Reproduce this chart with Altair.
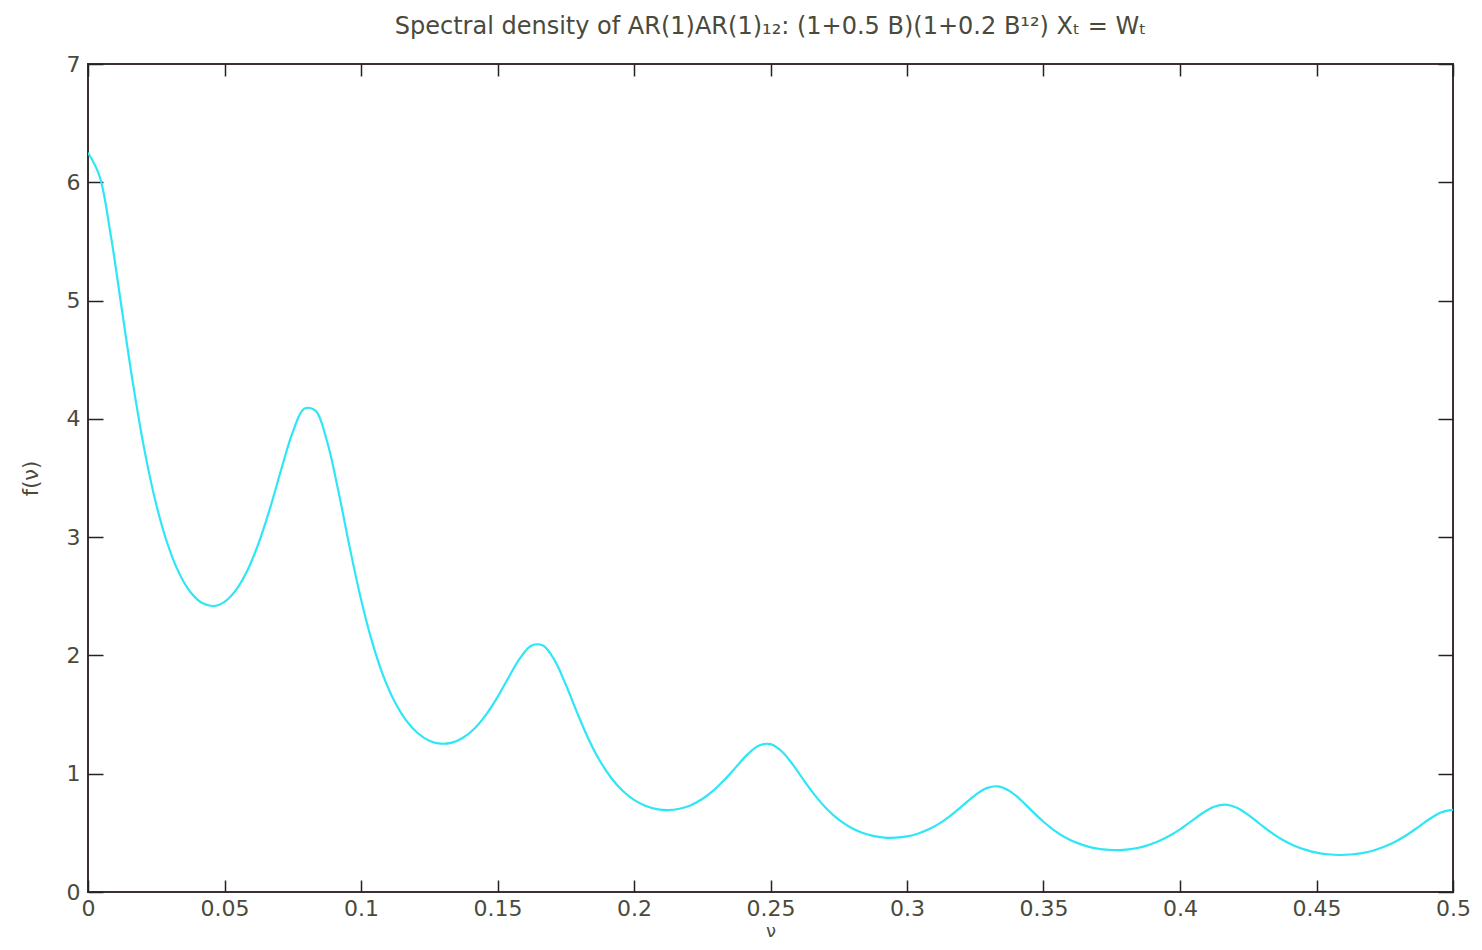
import altair as alt
import pandas as pd

# frequency grid (nu) read along the x axis
nu = [0, 0.00417, 0.00833, 0.0125, 0.01667, 0.02083, 0.025, 0.02917, 0.03333, 0.0375,
      0.04167, 0.04583, 0.05, 0.05417, 0.05833, 0.0625, 0.06667, 0.07083, 0.075, 0.07917,
      0.08333, 0.0875, 0.09167, 0.09583, 0.1, 0.10417, 0.10833, 0.1125, 0.11667, 0.12083,
      0.125, 0.12917, 0.13333, 0.1375, 0.14167, 0.14583, 0.15, 0.15417, 0.15833, 0.1625,
      0.16667, 0.17083, 0.175, 0.17917, 0.18333, 0.1875, 0.19167, 0.19583, 0.2, 0.20417,
      0.20833, 0.2125, 0.21667, 0.22083, 0.225, 0.22917, 0.23333, 0.2375, 0.24167, 0.24583,
      0.25, 0.25417, 0.25833, 0.2625, 0.26667, 0.27083, 0.275, 0.27917, 0.28333, 0.2875,
      0.29167, 0.29583, 0.3, 0.30417, 0.30833, 0.3125, 0.31667, 0.32083, 0.325, 0.32917,
      0.33333, 0.3375, 0.34167, 0.34583, 0.35, 0.35417, 0.35833, 0.3625, 0.36667, 0.37083,
      0.375, 0.37917, 0.38333, 0.3875, 0.39167, 0.39583, 0.4, 0.40417, 0.40833, 0.4125,
      0.41667, 0.42083, 0.425, 0.42917, 0.43333, 0.4375, 0.44167, 0.44583, 0.45, 0.45417,
      0.45833, 0.4625, 0.46667, 0.47083, 0.475, 0.47917, 0.48333, 0.4875, 0.49167, 0.49583,
      0.5]

# spectral density values f(nu)
f_nu = [6.250, 6.056, 5.553, 4.909, 4.271, 3.719, 3.276, 2.940, 2.698, 2.536,
        2.445, 2.418, 2.453, 2.552, 2.716, 2.949, 3.243, 3.576, 3.888, 4.085,
        4.069, 3.815, 3.394, 2.917, 2.475, 2.106, 1.817, 1.602, 1.447, 1.342,
        1.279, 1.254, 1.263, 1.306, 1.385, 1.500, 1.648, 1.818, 1.979, 2.084,
        2.083, 1.962, 1.754, 1.516, 1.294, 1.109, 0.964, 0.856, 0.779, 0.729,
        0.701, 0.693, 0.704, 0.734, 0.786, 0.859, 0.953, 1.060, 1.166, 1.239,
        1.250, 1.188, 1.072, 0.935, 0.806, 0.697, 0.611, 0.548, 0.503, 0.475,
        0.460, 0.459, 0.470, 0.495, 0.534, 0.589, 0.659, 0.739, 0.819, 0.878,
        0.893, 0.855, 0.778, 0.684, 0.594, 0.517, 0.457, 0.413, 0.382, 0.363,
        0.355, 0.356, 0.368, 0.390, 0.424, 0.471, 0.530, 0.599, 0.668, 0.721,
        0.738, 0.712, 0.652, 0.577, 0.504, 0.442, 0.394, 0.358, 0.333, 0.319,
        0.313, 0.317, 0.329, 0.351, 0.384, 0.429, 0.486, 0.553, 0.621, 0.674,
        0.694]

x_ticks = [0, 0.05, 0.1, 0.15, 0.2, 0.25, 0.3, 0.35, 0.4, 0.45, 0.5]
y_ticks = [0, 1, 2, 3, 4, 5, 6, 7]

title_text = "Spectral density of AR(1)AR(1)\u2081\u2082: (1+0.5 B)(1+0.2 B\u00b9\u00b2) X\u209c = W\u209c"

df = pd.DataFrame({"nu": nu, "f": f_nu})

TEXT = "#4a4a3c"
FONT = "DejaVu Sans"
TICK = "#222222"

x_scale = alt.Scale(domain=[0, 0.5], nice=False, zero=False)
y_scale = alt.Scale(domain=[0, 7], nice=False)

common = dict(domain=False, grid=False, tickColor=TICK, tickWidth=1.5,
              labelFont=FONT, labelFontSize=22, labelColor=TEXT, labelFlush=False,
              titleFont=FONT, titleColor=TEXT, titleFontWeight="normal")

base = alt.Chart(df)

main = base.mark_line(color="#2ee6f5", strokeWidth=2.2, interpolate="catmull-rom", clip=True).encode(
    x=alt.X("nu:Q", scale=x_scale,
            axis=alt.Axis(orient="bottom", values=x_ticks, format="~g", title="\u03bd",
                          titleFontSize=18, offset=-12, tickSize=12, labelPadding=6,
                          titlePadding=3, **common)),
    y=alt.Y("f:Q", scale=y_scale,
            axis=alt.Axis(orient="left", values=y_ticks, format="d", title="f(\u03bd)",
                          titleFontSize=21, offset=-15, tickSize=15, labelPadding=8,
                          titlePadding=25, **common)),
)

frame = base.mark_line(opacity=0).encode(
    x=alt.X("nu:Q", scale=x_scale,
            axis=alt.Axis(orient="top", values=x_ticks, labels=False, title=None,
                          offset=-12, tickSize=12, **common)),
    y=alt.Y("f:Q", scale=y_scale,
            axis=alt.Axis(orient="right", values=y_ticks, labels=False, title=None,
                          offset=-15, tickSize=15, **common)),
)

chart = (
    alt.layer(main, frame)
    .resolve_axis(x="independent", y="independent")
    .properties(
        width=1365,
        height=828,
        autosize=alt.AutoSizeParams(type="none"),
        padding={"left": 80, "top": 56, "right": 20, "bottom": 50},
        title=alt.Title(title_text, font=FONT, fontSize=24, color=TEXT,
                        fontWeight="normal", anchor="middle", offset=14),
    )
    .configure_view(stroke="#3a3030", strokeWidth=2)
)

chart.save("out.html", embed_options={"renderer": "svg", "actions": False})
